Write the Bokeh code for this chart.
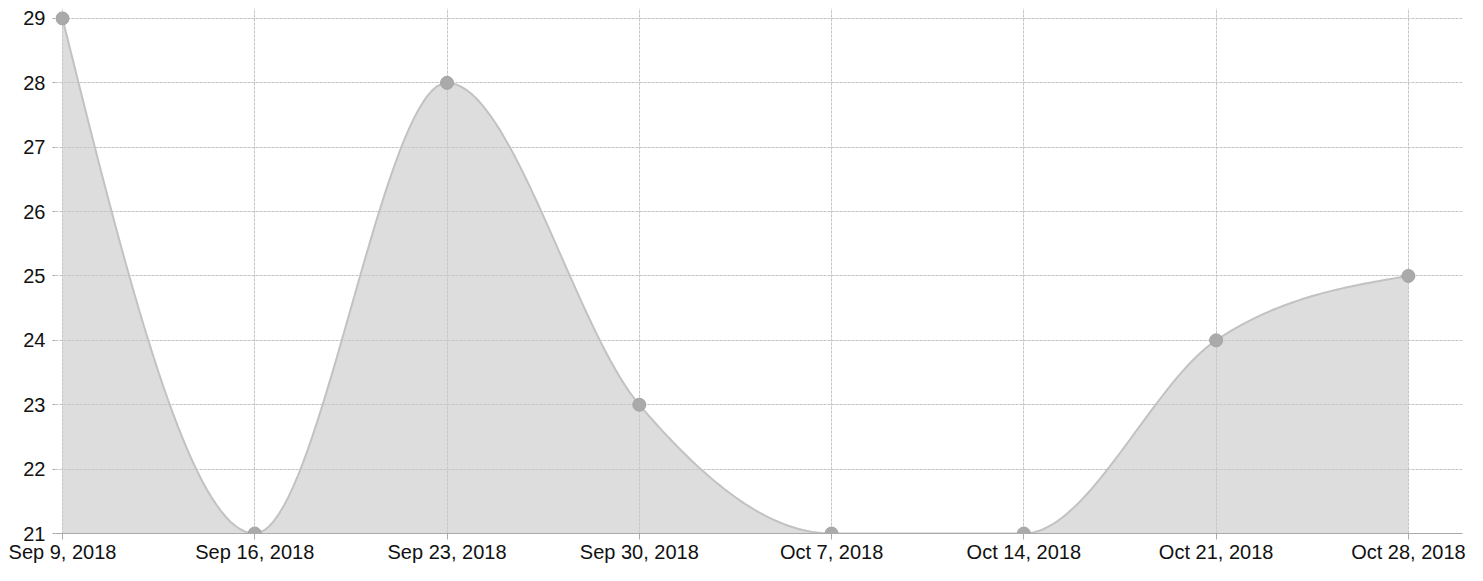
from datetime import date
from bokeh.plotting import figure
from bokeh.models import FixedTicker, Range1d
from bokeh.embed import file_html
from bokeh.resources import INLINE

# ---- data ----
dates = ["2018-09-09", "2018-09-16", "2018-09-23", "2018-09-30",
         "2018-10-07", "2018-10-14", "2018-10-21", "2018-10-28"]
values = [29, 21, 28, 23, 21, 21, 24, 25]
tick_labels = ["Sep 9, 2018", "Sep 16, 2018", "Sep 23, 2018", "Sep 30, 2018",
               "Oct 7, 2018", "Oct 14, 2018", "Oct 21, 2018", "Oct 28, 2018"]
y_ticks = [21, 22, 23, 24, 25, 26, 27, 28, 29]

d0 = date.fromisoformat(dates[0])
xs = [(date.fromisoformat(d) - d0).days for d in dates]


# ---- monotone-X cubic (d3 curveMonotoneX) ----
def sgn(v):
    return -1 if v < 0 else 1


def monotone_slopes(x, y):
    n = len(x)
    t = [0.0] * n
    for i in range(1, n - 1):
        h0 = x[i] - x[i - 1]
        h1 = x[i + 1] - x[i]
        s0 = (y[i] - y[i - 1]) / h0
        s1 = (y[i + 1] - y[i]) / h1
        p = (s0 * h1 + s1 * h0) / (h0 + h1)
        t[i] = (sgn(s0) + sgn(s1)) * min(abs(s0), abs(s1), 0.5 * abs(p))
    h = x[1] - x[0]
    t[0] = (3 * (y[1] - y[0]) / h - t[1]) / 2
    h = x[-1] - x[-2]
    t[-1] = (3 * (y[-1] - y[-2]) / h - t[-2]) / 2
    return t


def curve_points(x, y, steps=40):
    t = monotone_slopes(x, y)
    cx, cy = [], []
    for i in range(len(x) - 1):
        dx = (x[i + 1] - x[i]) / 3.0
        p0 = (x[i], y[i])
        p1 = (x[i] + dx, y[i] + dx * t[i])
        p2 = (x[i + 1] - dx, y[i + 1] - dx * t[i + 1])
        p3 = (x[i + 1], y[i + 1])
        for k in range(steps + (1 if i == len(x) - 2 else 0)):
            u = k / steps
            a = (1 - u) ** 3
            b = 3 * (1 - u) ** 2 * u
            c = 3 * (1 - u) * u ** 2
            d = u ** 3
            cx.append(a * p0[0] + b * p1[0] + c * p2[0] + d * p3[0])
            cy.append(a * p0[1] + b * p1[1] + c * p2[1] + d * p3[1])
    return cx, cy


cx, cy = curve_points(xs, values)

# ---- figure ----
W, H = 1467, 565
p = figure(width=W, height=H, output_backend="svg", toolbar_location=None,
           x_range=Range1d(-0.255, 50.97), y_range=Range1d(21, 29.154),
           min_border_left=55, min_border_right=5, min_border_top=8,
           min_border_bottom=29)
p.outline_line_color = None
p.background_fill_color = "white"

p.varea(x=cx, y1=[y_ticks[0]] * len(cx), y2=cy,
        fill_color="#c8c8c8", fill_alpha=0.62)
p.line(cx, cy, line_color="#c2c2c2", line_width=2)
p.scatter(xs, values, size=13, fill_color="#aaaaaa", line_color="#a4a4a4")

xt = FixedTicker(ticks=xs)
yt = FixedTicker(ticks=y_ticks)
p.xaxis.ticker = xt
p.yaxis.ticker = yt
p.xgrid.ticker = xt
p.ygrid.ticker = yt
p.xaxis.major_label_overrides = {x: lab for x, lab in zip(xs, tick_labels)}
p.yaxis.major_label_overrides = {v: str(v) for v in y_ticks}

for g in (p.xgrid, p.ygrid):
    g.grid_line_color = "#c4c4c4"
    g.grid_line_dash = "3 1"
    g.grid_line_width = 1

for ax in (p.xaxis, p.yaxis):
    ax.axis_line_color = "#aaaaaa"
    ax.major_tick_line_color = "#aaaaaa"
    ax.minor_tick_line_color = None
    ax.major_tick_in = 0
    ax.major_label_text_font = "Liberation Sans"
    ax.major_label_text_font_size = "20px"
    ax.major_label_text_color = "#111111"

p.yaxis.axis_line_color = None
p.xaxis.major_tick_out = 6
p.xaxis.major_label_standoff = 1
p.yaxis.major_tick_out = 3
p.yaxis.major_label_standoff = 7

open("out.html", "w").write(file_html(p, INLINE))
